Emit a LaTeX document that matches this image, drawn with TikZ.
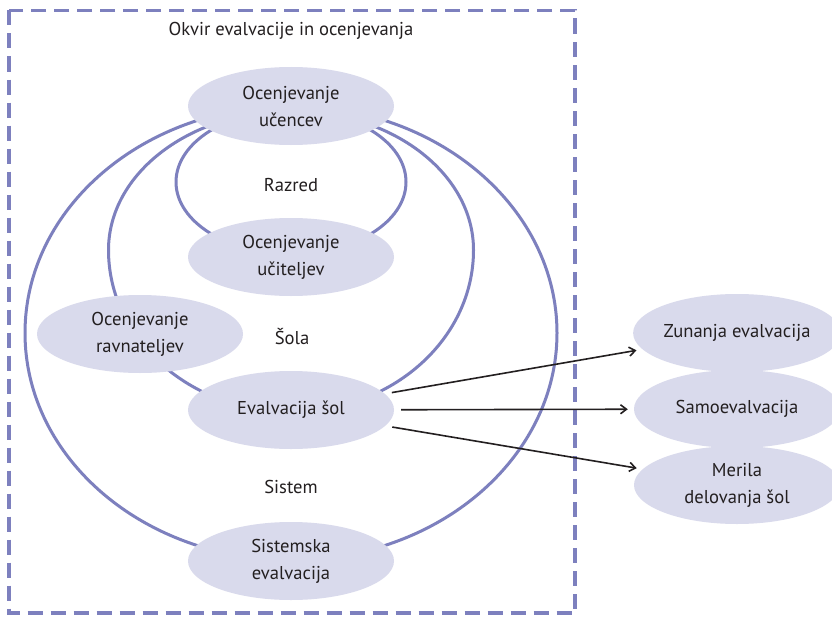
\documentclass[tikz,border=0pt]{standalone}
\usepackage{fontspec}
\setmainfont{PT Sans}
\usetikzlibrary{shapes.geometric,arrows.meta}
\definecolor{ringc}{RGB}{125,128,190}
\definecolor{bubblec}{RGB}{217,218,236}
\definecolor{inkc}{RGB}{35,31,32}
\begin{document}
\begin{tikzpicture}[x=1pt,y=-1pt,
  bubble/.style={ellipse, fill=bubblec, minimum width=206pt, minimum height=78pt,
    inner sep=0pt, align=center, font=\fontsize{18.6}{27}\selectfont, text=inkc},
  tag/.style={font=\fontsize{18.6}{27}\selectfont, text=inkc},
  ring/.style={draw=ringc, line width=3pt},
  frame/.style={draw=ringc, line width=3.5pt, dash pattern=on 15pt off 8pt},
  arr/.style={draw=inkc, line width=1.6pt, -{Straight Barb[length=6pt,width=9pt]},
    shorten <=7pt, shorten >=6pt}]
\useasboundingbox (0,0) rectangle (832,618);
\fill[white] (0,0) rectangle (832,618);

% outer dashed frame
\draw[frame] (9,10.5) rectangle (575,613);
\node[tag] (title) at (291,31) {Okvir evalvacije in ocenjevanja};

% nested rings: class, school, system
\draw[ring] (291,182) ellipse [x radius=115pt, y radius=72pt];
\draw[ring] (108.5,250) arc[start angle=180, end angle=0, x radius=182.5pt, y radius=139pt]
                        arc[start angle=0, end angle=-180, x radius=182.5pt, y radius=162pt];
\draw[ring] (291,333) ellipse [x radius=266pt, y radius=227pt];

% ring labels
\node[tag] (razred) at (291,185) {Razred};
\node[tag] (sola) at (292,337) {Šola};
\node[tag] (sistem) at (291,487) {Sistem};

% assessment bubbles
\node[bubble] (A) at (291,106) {Ocenjevanje\\učencev};
\node[bubble] (B) at (291,257) {Ocenjevanje\\učiteljev};
\node[bubble] (C) at (140,334) {Ocenjevanje\\ravnateljev};
\node[bubble] (D) at (291,410) {Evalvacija šol};
\node[bubble] (E) at (291,561) {Sistemska\\evalvacija};

% forms of school evaluation
\node[bubble] (F) at (737,333) {Zunanja evalvacija};
\node[bubble] (G) at (737,409) {Samoevalvacija};
\node[bubble] (H) at (737,485) {Merila\\delovanja šol};

\draw[arr] (D) -- (F);
\draw[arr] (D) -- (G);
\draw[arr] (D) -- (H);
\end{tikzpicture}
\end{document}
